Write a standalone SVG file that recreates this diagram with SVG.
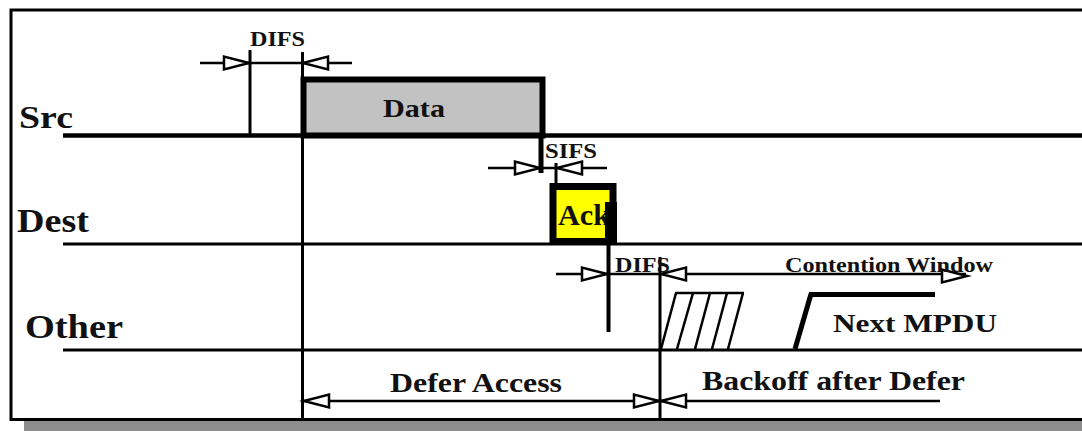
<svg xmlns="http://www.w3.org/2000/svg" xmlns:xlink="http://www.w3.org/1999/xlink" width="1082" height="431" viewBox="0 0 1082 431">
<style>
.t{font-family:"Liberation Serif","Times New Roman",serif;font-weight:bold;fill:#111}
.ln{stroke:#000;fill:none;stroke-linecap:butt}
.ah{fill:#fff;stroke:#000;stroke-width:2.5;stroke-linejoin:miter}
</style>
<defs>
<path id="ahR" class="ah" d="M0,0 L-25,-6.5 L-25,6.5 Z"/>
<path id="ahL" class="ah" d="M0,0 L25,-6.5 L25,6.5 Z"/>
</defs>
<rect x="0" y="0" width="1082" height="431" fill="#fff"/>
<g id="frame">
<rect x="24" y="421" width="1070" height="12" fill="#8e8e8e"/>
<rect x="11" y="10" width="1100" height="409.5" fill="#fff" stroke="#000" stroke-width="3"/>
</g>
<g id="timelines">
<line class="ln" x1="63" y1="135.5" x2="1082" y2="135.5" stroke-width="4.5"/>
<line class="ln" x1="63" y1="244" x2="1082" y2="244" stroke-width="3"/>
<line class="ln" x1="63" y1="350" x2="1082" y2="350" stroke-width="3"/>
</g>
<g id="src">
<text class="t" x="19" y="128" font-size="32" textLength="54" lengthAdjust="spacingAndGlyphs">Src</text>
</g>
<g id="dest">
<text class="t" x="17" y="232" font-size="33" textLength="72" lengthAdjust="spacingAndGlyphs">Dest</text>
</g>
<g id="other">
<text class="t" x="25" y="338" font-size="33" textLength="98" lengthAdjust="spacingAndGlyphs">Other</text>
</g>
<g id="data">
<rect x="303.5" y="79.5" width="239" height="56" fill="#c2c2c2" stroke="#000" stroke-width="6"/>
<text class="t" x="383" y="117" font-size="26" textLength="62" lengthAdjust="spacingAndGlyphs">Data</text>
</g>
<g id="ack">
<rect x="553" y="186.5" width="60" height="55" fill="#ffff00" stroke="#000" stroke-width="7"/>
<text class="t" x="558" y="225" font-size="29" textLength="52" lengthAdjust="spacingAndGlyphs">Ack</text>
<rect x="605" y="202" width="12" height="42" fill="#000"/>
</g>
<g id="backoff">
<g class="ln" stroke-width="2.5">
<line x1="661" y1="349" x2="676" y2="293"/>
<line x1="677" y1="349" x2="693" y2="293"/>
<line x1="695" y1="349" x2="710" y2="293"/>
<line x1="712" y1="349" x2="727" y2="293"/>
<line x1="728" y1="349" x2="743" y2="293"/>
<line x1="675" y1="293" x2="744" y2="293"/>
</g>
<line class="ln" x1="795" y1="349" x2="811" y2="294" stroke-width="5"/>
<line class="ln" x1="809" y1="294.5" x2="935" y2="294.5" stroke-width="5"/>
<text class="t" x="833" y="332" font-size="26" textLength="164" lengthAdjust="spacingAndGlyphs">Next MPDU</text>
</g>
<g id="connectors">
<g class="ln" stroke-width="3">
<line x1="250" y1="50" x2="250" y2="135"/>
<line x1="302.5" y1="52" x2="302.5" y2="418"/>
<line x1="200" y1="63" x2="352" y2="63" stroke-width="2.5"/>
<line x1="541" y1="134" x2="541" y2="173" stroke-width="5"/>
<line x1="556" y1="163" x2="556" y2="184"/>
<line x1="488" y1="168" x2="607" y2="168" stroke-width="2.5"/>
<line x1="608.5" y1="242" x2="608.5" y2="332" stroke-width="4"/>
<line x1="660" y1="257" x2="660" y2="418"/>
<line x1="556" y1="274" x2="966" y2="274" stroke-width="2.5"/>
<line x1="303" y1="401" x2="660" y2="401" stroke-width="2.5"/>
<line x1="660" y1="401" x2="940" y2="401" stroke-width="2.5"/>
</g>
<use xlink:href="#ahR" x="249" y="63"/>
<use xlink:href="#ahL" x="303" y="63"/>
<use xlink:href="#ahR" x="540" y="168"/>
<use xlink:href="#ahL" x="557" y="168"/>
<use xlink:href="#ahR" x="607" y="274"/>
<use xlink:href="#ahL" x="661" y="274"/>
<use xlink:href="#ahR" x="967" y="276"/>
<use xlink:href="#ahL" x="304" y="401"/>
<use xlink:href="#ahR" x="659" y="401"/>
<use xlink:href="#ahL" x="661" y="401"/>
<text class="t" x="250" y="46" font-size="21" textLength="55" lengthAdjust="spacingAndGlyphs">DIFS</text>
<text class="t" x="545" y="158" font-size="20" textLength="52" lengthAdjust="spacingAndGlyphs">SIFS</text>
<text class="t" x="615" y="272" font-size="21" textLength="55" lengthAdjust="spacingAndGlyphs">DIFS</text>
<text class="t" x="785" y="272" font-size="20" textLength="208" lengthAdjust="spacingAndGlyphs">Contention Window</text>
<text class="t" x="390" y="392" font-size="27" textLength="172" lengthAdjust="spacingAndGlyphs">Defer Access</text>
<text class="t" x="702" y="390" font-size="27" textLength="263" lengthAdjust="spacingAndGlyphs">Backoff after Defer</text>
</g>
</svg>
